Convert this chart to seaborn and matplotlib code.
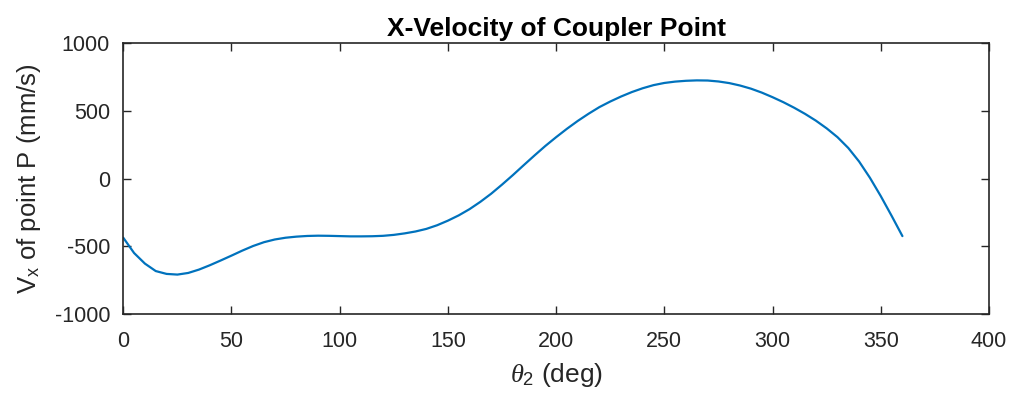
import numpy as np
import pandas as pd
import matplotlib
matplotlib.use("Agg")
import matplotlib.pyplot as plt
import seaborn as sns

theta2 = list(range(0, 365, 5))
vx = [-437, -550, -628, -683, -704, -709, -697, -672, -640, -605,
      -569, -532, -498, -470, -450, -437, -429, -424, -422, -423,
      -425, -427, -427, -426, -423, -416, -405, -391, -372, -345,
      -311, -272, -226, -172, -112, -45, 25, 98, 170, 240,
      305, 367, 425, 478, 527, 568, 605, 638, 666, 689,
      705, 715, 721, 724, 723, 716, 704, 686, 663, 634,
      600, 563, 522, 477, 427, 370, 305, 225, 125, 5,
      -130, -275, -425]

xticks = [0, 50, 100, 150, 200, 250, 300, 350, 400]
yticks = [-1000, -500, 0, 500, 1000]

sns.set_theme(style="white")
plt.rcParams['font.family'] = ['Liberation Sans', 'DejaVu Sans']
plt.rcParams['mathtext.fontset'] = 'custom'
plt.rcParams['mathtext.rm'] = 'Liberation Sans'
plt.rcParams['mathtext.it'] = 'Liberation Serif:italic'
plt.rcParams['axes.unicode_minus'] = False

df = pd.DataFrame({"theta": theta2, "vx": vx})

fig = plt.figure(figsize=(10.18, 3.98), dpi=100)
ax = fig.add_axes([0.1211, 0.211, 0.8504, 0.681])
sns.lineplot(data=df, x="theta", y="vx", ax=ax, color="#0072BD", linewidth=1.6)

gray = "#262626"
ax.set_xlim(0, 400)
ax.set_ylim(-1000, 1000)
ax.set_xticks(xticks)
ax.set_yticks(yticks)
ax.tick_params(direction="in", length=6, width=1, colors=gray, labelsize=15.5,
               top=True, right=True, bottom=True, left=True)
ax.tick_params(axis="x", pad=12)
ax.tick_params(axis="y", pad=9.5)
for s in ax.spines.values():
    s.set_color(gray)
    s.set_linewidth(1.2)
ax.set_title("X-Velocity of Coupler Point", fontsize=19, fontweight="bold",
             color="black", pad=5)
ax.set_xlabel(r"$\theta_\mathregular{2}$ (deg)", fontsize=19, color=gray, labelpad=7)
ax.set_ylabel(r"V$_\mathregular{x}$ of point P (mm/s)", fontsize=18.5, color=gray, labelpad=8)
ax.grid(False)
fig.savefig("out.png", dpi=100, facecolor="white")
